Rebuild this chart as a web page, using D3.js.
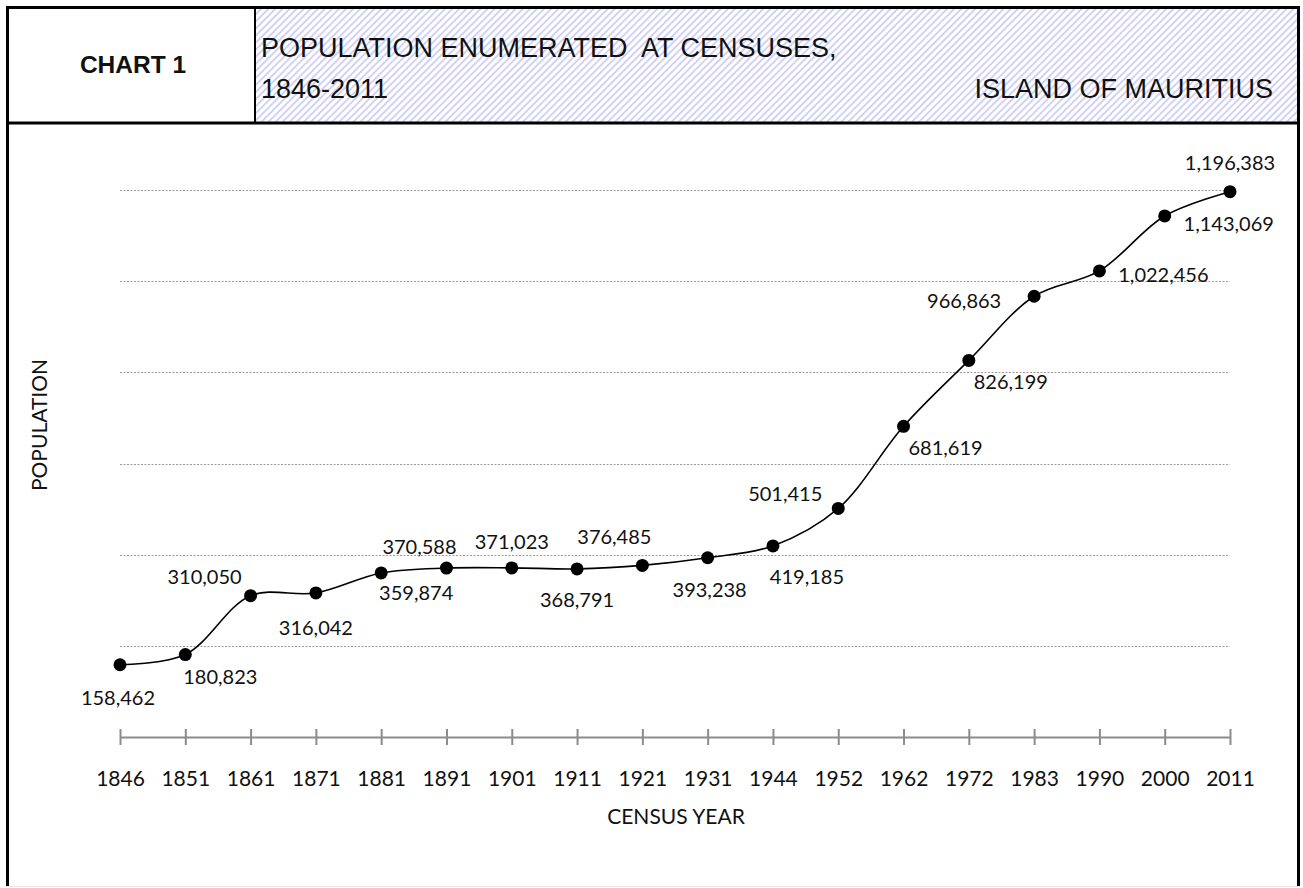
<!DOCTYPE html>
<html>
<head>
<meta charset="utf-8">
<script src="https://cdn.jsdelivr.net/npm/d3@7"></script>
<style>
    html, body {
        margin: 0;
        padding: 0;
        background: #ffffff;
    }
    #vis {
        width: 1303px;
        height: 888px;
    }
</style>
</head>
<body>
<div id="vis"></div>
<script>
// census years and population enumerated
var years = ["1846", "1851", "1861", "1871", "1881", "1891", "1901", "1911", "1921",
    "1931", "1944", "1952", "1962", "1972", "1983", "1990", "2000", "2011"];
var population = [158462, 180823, 310050, 316042, 359874, 370588, 371023, 368791, 376485,
    393238, 419185, 501415, 681619, 826199, 966863, 1022456, 1143069, 1196383];
var gridValues = [200000, 400000, 600000, 800000, 1000000, 1200000];

// where each data label sits relative to its point (dx, dy in px)
var labelOffsets = [[-2, 32], [35, 21], [-46, -20], [0, 34], [35, 19], [-27, -22], [0, -27],
    [0, 30], [-28, -29], [2, 31], [34, 30], [-53, -15], [42, 21], [42, 21], [-70, 4],
    [64, 3], [64, 7], [0, -30]];

var W = 1303, H = 888;
var bodyFont = "Lato, 'Open Sans', sans-serif";
var headFont = "'Liberation Sans', Arial, sans-serif";

var svg = d3.select("#vis")
    .append("svg")
    .attr("width", W)
    .attr("height", H);

// hatch pattern for the title cell
var defs = svg.append("defs");
var pat = defs.append("pattern")
    .attr("id", "hatch")
    .attr("patternUnits", "userSpaceOnUse")
    .attr("width", 5)
    .attr("height", 5)
    .attr("patternTransform", "rotate(45)");
pat.append("rect").attr("width", 5).attr("height", 5).attr("fill", "#ffffff");
pat.append("line")
    .attr("x1", 1).attr("y1", 0).attr("x2", 1).attr("y2", 5)
    .attr("stroke", "#d2d2f4")
    .attr("stroke-width", 2);

// ---- header ----
svg.append("rect")
    .attr("x", 256).attr("y", 8)
    .attr("width", 1042).attr("height", 114)
    .attr("fill", "url(#hatch)");

// frame
var frame = svg.append("g").attr("stroke", "#000");
frame.append("line").attr("x1", 6).attr("y1", 7.5).attr("x2", 1300).attr("y2", 7.5).attr("stroke-width", 3);
frame.append("line").attr("x1", 7.5).attr("y1", 6).attr("x2", 7.5).attr("y2", 887).attr("stroke-width", 3);
frame.append("line").attr("x1", 1298.5).attr("y1", 6).attr("x2", 1298.5).attr("y2", 887).attr("stroke-width", 3);
frame.append("line").attr("x1", 6).attr("y1", 123).attr("x2", 1300).attr("y2", 123).attr("stroke-width", 3);
frame.append("line").attr("x1", 255).attr("y1", 7).attr("x2", 255).attr("y2", 123).attr("stroke-width", 2);
svg.append("line")
    .attr("x1", 6).attr("y1", 886.5).attr("x2", 1300).attr("y2", 886.5)
    .attr("stroke", "#e6e6e6").attr("stroke-width", 1);

svg.append("text")
    .attr("x", 133).attr("y", 73)
    .attr("text-anchor", "middle")
    .style("font-family", headFont)
    .style("font-weight", "700")
    .style("font-size", "24.5px")
    .attr("fill", "#111")
    .text("CHART 1");

svg.append("text")
    .attr("x", 261).attr("y", 57)
    .style("font-family", headFont)
    .style("font-size", "27px")
    .style("white-space", "pre")
    .attr("fill", "#111")
    .text("POPULATION ENUMERATED  AT CENSUSES,");

svg.append("text")
    .attr("x", 261).attr("y", 98)
    .style("font-family", headFont)
    .style("font-size", "27px")
    .attr("fill", "#111")
    .text("1846-2011");

svg.append("text")
    .attr("x", 1273).attr("y", 98)
    .attr("text-anchor", "end")
    .style("font-family", headFont)
    .style("font-size", "27px")
    .attr("fill", "#111")
    .text("ISLAND OF MAURITIUS");

// ---- chart ----
var x = d3.scalePoint()
    .domain(years)
    .range([120, 1230]);

var y = d3.scaleLinear()
    .domain([0, 1200000])
    .range([737, 190]);

// dotted gridlines
svg.append("g")
    .selectAll("line")
    .data(gridValues)
    .enter()
    .append("line")
    .attr("x1", x.range()[0])
    .attr("x2", x.range()[1])
    .attr("y1", function (d) { return Math.round(y(d)) + 0.5; })
    .attr("y2", function (d) { return Math.round(y(d)) + 0.5; })
    .attr("stroke", "#9a9a9a")
    .attr("stroke-width", 1)
    .attr("stroke-dasharray", "2,1.5");

// category axis
var xAxis = svg.append("g")
    .attr("transform", "translate(0," + y(0) + ")")
    .call(d3.axisBottom(x).tickSizeInner(8).tickSizeOuter(0).tickPadding(26));

xAxis.select("path.domain")
    .attr("stroke", "#8c8c8c")
    .attr("stroke-width", 2);

xAxis.selectAll(".tick line")
    .attr("y1", -8)
    .attr("y2", 8)
    .attr("stroke", "#8c8c8c")
    .attr("stroke-width", 2);

xAxis.selectAll(".tick text")
    .style("font-family", bodyFont)
    .style("font-size", "21px")
    .attr("fill", "#111");

// axis titles
svg.append("text")
    .attr("transform", "translate(47,425) rotate(-90)")
    .attr("text-anchor", "middle")
    .style("font-family", bodyFont)
    .style("font-size", "21px")
    .attr("fill", "#111")
    .text("POPULATION");

svg.append("text")
    .attr("x", 676).attr("y", 824)
    .attr("text-anchor", "middle")
    .style("font-family", bodyFont)
    .style("font-size", "21px")
    .attr("fill", "#111")
    .text("CENSUS YEAR");

// smoothed line
var points = years.map(function (yr, i) { return { year: yr, value: population[i], off: labelOffsets[i] }; });

var line = d3.line()
    .x(function (d) { return x(d.year); })
    .y(function (d) { return y(d.value); })
    .curve(d3.curveCatmullRom.alpha(0.5));

svg.append("path")
    .datum(points)
    .attr("d", line)
    .attr("fill", "none")
    .attr("stroke", "#000")
    .attr("stroke-width", 1.6);

svg.append("g")
    .selectAll("circle")
    .data(points)
    .enter()
    .append("circle")
    .attr("cx", function (d) { return x(d.year); })
    .attr("cy", function (d) { return y(d.value); })
    .attr("r", 6.5)
    .attr("fill", "#000");

// data labels
svg.append("g")
    .selectAll("text")
    .data(points)
    .enter()
    .append("text")
    .attr("x", function (d) { return x(d.year) + d.off[0]; })
    .attr("y", function (d) { return y(d.value) + d.off[1]; })
    .attr("text-anchor", "middle")
    .attr("dominant-baseline", "central")
    .style("font-family", bodyFont)
    .style("font-size", "20px")
    .attr("fill", "#111")
    .text(function (d) { return d3.format(",")(d.value); });
</script>
</body>
</html>
